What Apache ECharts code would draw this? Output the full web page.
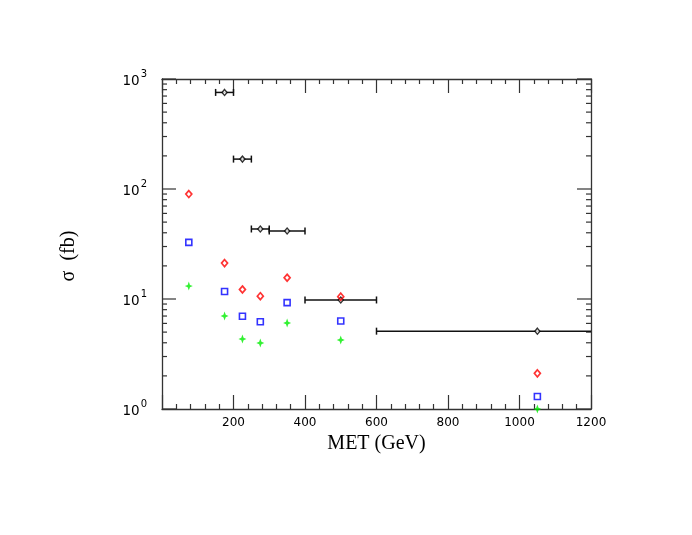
<!DOCTYPE html>
<html><head><meta charset="utf-8">
<script src="https://cdn.jsdelivr.net/npm/echarts@6/dist/echarts.min.js"></script>
<style>html,body{margin:0;padding:0;background:#fff}#c{width:692px;height:535px}</style>
</head><body><div id="c"></div>
<script>
// Data
const blackX    = [175, 225, 275, 350, 500, 1050];
const blackXLow = [150, 200, 250, 300, 400, 600];
const blackXHigh= [200, 250, 300, 400, 600, 1500];
const blackY    = [755, 187, 43.3, 41.5, 9.8, 5.1];
const pointX    = [75, 175, 225, 275, 350, 500, 1050];
const redY      = [90, 21.2, 12.2, 10.6, 15.6, 10.5, 2.11];
const blueY     = [32.7, 11.7, 6.97, 6.22, 9.27, 6.3, 1.30];
const greenY    = [13.1, 7.0, 4.33, 3.98, 6.05, 4.24, 1.0];
const xTicks    = [0, 200, 400, 600, 800, 1000, 1200];
const yDecades  = [1, 10, 100, 1000];
const yMinorTicks = [2,3,4,5,6,7,8,9,20,30,40,50,60,70,80,90,200,300,400,500,600,700,800,900];

const axisColor = '#333';
const lblFont = 'DejaVu Sans';
const serif = 'Liberation Serif';

const chart = echarts.init(document.getElementById('c'), null, {renderer: 'canvas'});

const xCommon = {
  type: 'value', min: xTicks[0], max: xTicks[xTicks.length-1], interval: 200,
  axisLine: {show: true, onZero: false, lineStyle: {color: axisColor, width: 1.3}},
  axisTick: {show: true, inside: true, length: 14, lineStyle: {color: axisColor, width: 1.2}},
  minorTick: {show: true, splitNumber: 5, length: 5, lineStyle: {color: axisColor, width: 1.2}},
  splitLine: {show: false}
};
const yCommon = {
  type: 'log', logBase: 10, min: yDecades[0], max: yDecades[yDecades.length-1],
  axisLine: {show: true, onZero: false, lineStyle: {color: axisColor, width: 1.3}},
  axisTick: {show: false},
  minorTick: {show: false},
  splitLine: {show: false}
};

const starPath = 'path://M0,-10 L2.6,-2.6 L9,0 L2.6,2.6 L0,10 L-2.6,2.6 L-9,0 L-2.6,-2.6 Z';

const yTickData = yDecades.map(v => [0, v, 14]).concat(yMinorTicks.map(v => [0, v, 5]));

chart.setOption({
  animation: false,
  backgroundColor: '#fff',
  grid: {left: 162, right: 101, top: 79, bottom: 126, containLabel: false},
  xAxis: [
    Object.assign({}, xCommon, {
      position: 'bottom',
      name: 'MET (GeV)', nameLocation: 'middle', nameGap: 25,
      nameTextStyle: {fontFamily: serif, fontSize: 20, color: '#000'},
      axisLabel: {show: true, margin: 8, showMinLabel: false, fontFamily: lblFont, fontSize: 12, color: '#000',
        formatter: v => v === 0 ? '' : String(v)}
    }),
    Object.assign({}, xCommon, {position: 'top', axisLabel: {show: false}})
  ],
  yAxis: [
    Object.assign({}, yCommon, {
      position: 'left',
      name: 'σ  (fb)', nameLocation: 'middle', nameGap: 83, nameRotate: 90,
      nameTextStyle: {fontFamily: serif, fontSize: 20, color: '#000', padding: [0, 24, 0, 0]},
      axisLabel: {show: true, margin: 15, fontFamily: lblFont, color: '#000',
        formatter: v => '{b|10}{s|' + Math.round(Math.log10(v)) + '}',
        rich: {
          b: {fontFamily: lblFont, fontSize: 13.5, lineHeight: 19, verticalAlign: 'bottom', color: '#000'},
          s: {fontFamily: lblFont, fontSize: 10, lineHeight: 10, padding: [0, 0, 0, 1], verticalAlign: 'top', color: '#000'}
        }}
    }),
    Object.assign({}, yCommon, {position: 'right', axisLabel: {show: false}})
  ],
  series: [
    {
      type: 'custom', xAxisIndex: 0, yAxisIndex: 0, silent: true, clip: false, z: 1,
      data: yTickData,
      renderItem: function (params, api) {
        const v = api.value(1);
        const len = api.value(2);
        const l = api.coord([xTicks[0], v]);
        const r = api.coord([xTicks[xTicks.length-1], v]);
        const st = {stroke: axisColor, lineWidth: 1.2};
        return {type: 'group', children: [
          {type: 'line', shape: {x1: l[0], y1: l[1], x2: l[0] + len, y2: l[1]}, style: st},
          {type: 'line', shape: {x1: r[0], y1: r[1], x2: r[0] - len, y2: r[1]}, style: st}
        ]};
      }
    },
    {
      type: 'custom', xAxisIndex: 0, yAxisIndex: 0, silent: true, clip: true, z: 2,
      data: blackX.map((x, i) => [blackXLow[i], blackXHigh[i], blackY[i]]),
      renderItem: function (params, api) {
        const a = api.coord([api.value(0), api.value(2)]);
        const b = api.coord([api.value(1), api.value(2)]);
        const st = {stroke: '#111', lineWidth: 1.5};
        const c = 3.5;
        return {type: 'group', children: [
          {type: 'line', shape: {x1: a[0], y1: a[1], x2: b[0], y2: b[1]}, style: st},
          {type: 'line', shape: {x1: a[0], y1: a[1] - c, x2: a[0], y2: a[1] + c}, style: st},
          {type: 'line', shape: {x1: b[0], y1: b[1] - c, x2: b[0], y2: b[1] + c}, style: st}
        ]};
      }
    },
    {
      type: 'scatter', xAxisIndex: 0, yAxisIndex: 0, z: 3,
      data: blackX.map((x, i) => [x, blackY[i]]),
      symbol: 'diamond', symbolSize: [5, 6],
      itemStyle: {color: '#fff', borderColor: '#000', borderWidth: 1.4}
    },
    {
      type: 'scatter', xAxisIndex: 0, yAxisIndex: 0, z: 4,
      data: pointX.map((x, i) => [x, redY[i]]),
      symbol: 'diamond', symbolSize: [6, 7],
      itemStyle: {color: 'rgba(0,0,0,0)', borderColor: '#ff0000', borderWidth: 1.7}
    },
    {
      type: 'scatter', xAxisIndex: 0, yAxisIndex: 0, z: 4,
      data: pointX.map((x, i) => [x, blueY[i]]),
      symbol: 'rect', symbolSize: [6, 6],
      itemStyle: {color: 'rgba(0,0,0,0)', borderColor: '#0000ff', borderWidth: 1.6}
    },
    {
      type: 'scatter', xAxisIndex: 0, yAxisIndex: 0, z: 4,
      data: pointX.map((x, i) => [x, greenY[i]]),
      symbol: starPath, symbolSize: [8, 9],
      itemStyle: {color: '#00ee00'}
    }
  ]
});
</script>
</body></html>
